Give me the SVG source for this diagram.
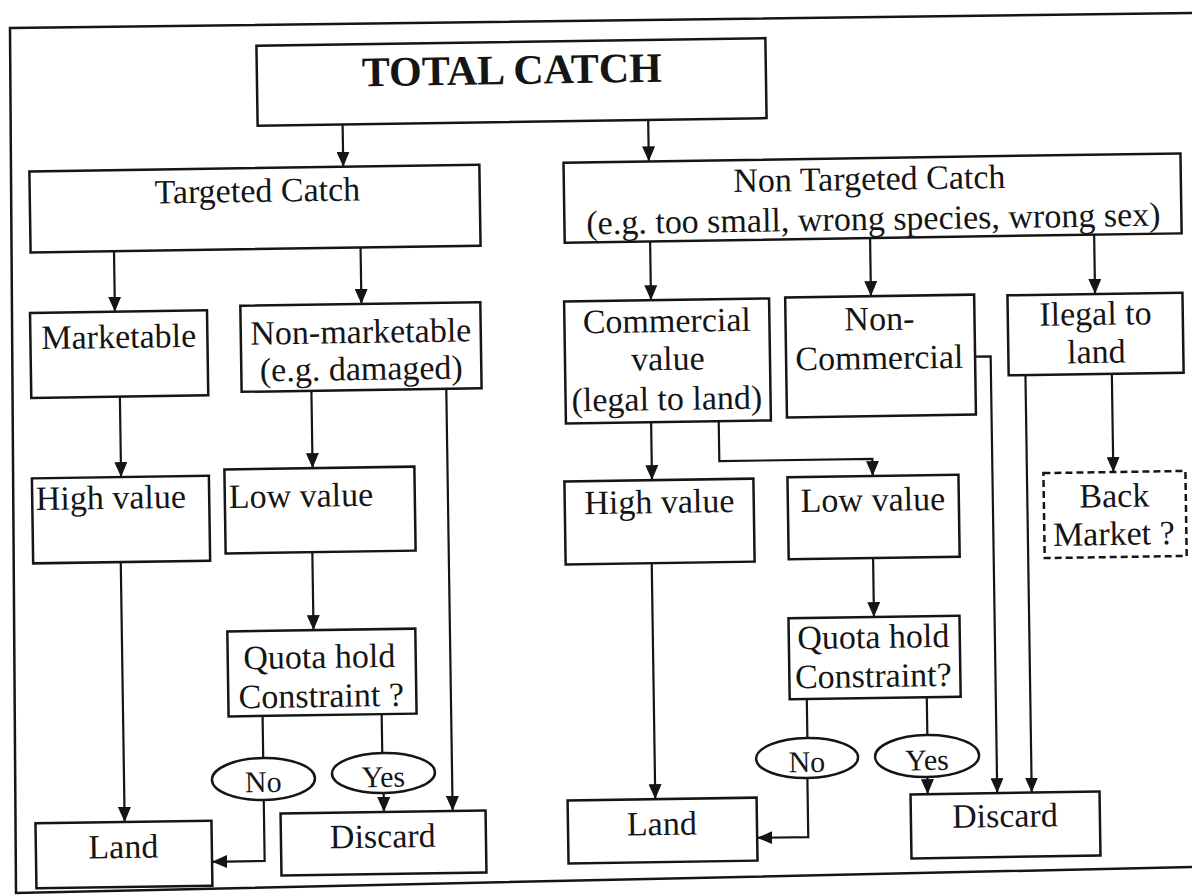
<svg xmlns="http://www.w3.org/2000/svg" width="1192" height="896" viewBox="0 0 1192 896">
<style>
.box{fill:#fff;stroke:#151515;stroke-width:2.5}
.dash{fill:#fff;stroke:#151515;stroke-width:2.5;stroke-dasharray:7 4}
.oval{fill:#fff;stroke:#151515;stroke-width:2.5}
.t{font-family:"Liberation Serif","Times New Roman",serif;font-size:34px;fill:#151515;text-anchor:middle}
.l{text-anchor:start}
.s{font-size:30px}
.title{font-size:42px;font-weight:bold}
.c{fill:none;stroke:#151515;stroke-width:2.2}
.a{marker-end:url(#arr)}
</style>
<defs>
<marker id="arr" markerUnits="userSpaceOnUse" viewBox="0 0 15 13" refX="15" refY="6.5" markerWidth="15" markerHeight="13" orient="auto">
<path d="M0,0 L15,6.5 L0,13 z" fill="#151515"/>
</marker>
</defs>
<rect width="1192" height="896" fill="#fff"/>
<g id="frame">
<polyline points="1192,13 10,28 16,893 1192,867" fill="none" stroke="#151515" stroke-width="2.5"/>
</g>
<g transform="rotate(-0.86 596 448)">
<g id="connectors">
<path class="c a" d="M347.5,120.7 V163"/>
<path class="c a" d="M653.1,120.7 V162.2"/>
<path class="c a" d="M117,244 V304.5"/>
<path class="c a" d="M363.6,244 V300.5"/>
<path class="c a" d="M653.2,242.2 V301.1"/>
<path class="c a" d="M873.2,242.2 V300.3"/>
<path class="c a" d="M1097.3,242.2 V301.5"/>
<path class="c a" d="M120.7,389.5 V469.9"/>
<path class="c a" d="M312.3,386.5 V463.9"/>
<path class="c a" d="M447.2,386.5 V808.8"/>
<path class="c a" d="M119.1,554.9 V814.9"/>
<path class="c a" d="M310.8,547.9 V625.9"/>
<path class="c" d="M258.6,710.9 V753"/>
<path class="c a" d="M258.5,795 V856 H205.9"/>
<path class="c" d="M377.7,710.9 V749.8"/>
<path class="c a" d="M378.5,789.8 V808.8"/>
<path class="c a" d="M651.5,423.1 V481"/>
<path class="c a" d="M719.1,423.1 V463 H872.2 V480.2"/>
<path class="c a" d="M871.4,562.2 V621.2"/>
<path class="c a" d="M650,564 V800"/>
<path class="c" d="M803,702.2 V741.2"/>
<path class="c a" d="M802.4,781.2 V840.2 H751.3"/>
<path class="c" d="M923,702.2 V740"/>
<path class="c a" d="M922.4,782 V799.1"/>
<path class="c a" d="M976.4,362.3 H992 V799.1"/>
<path class="c a" d="M1026.5,381.5 V799.1"/>
<path class="c a" d="M1112.9,381.5 V479.8"/>
</g>
<g id="total"><rect class="box" x="262.5" y="40.7" width="509" height="80"/><text class="t title" x="517.5" y="82.7">TOTAL CATCH</text></g>
<g id="targeted"><rect class="box" x="33.6" y="163" width="450" height="81"/><text class="t" x="261.2" y="196.9">Targeted Catch</text></g>
<g id="nontargeted"><rect class="box" x="567.8" y="162.2" width="617" height="80"/><text class="t" x="873.4" y="194.1">Non Targeted Catch</text><text class="t" x="876.8" y="234.2">(e.g. too small, wrong species, wrong sex)</text></g>
<g id="marketable"><rect class="box" x="32.1" y="304.5" width="177" height="85"/><text class="t" x="120.5" y="340.8">Marketable</text></g>
<g id="nonmarketable"><rect class="box" x="242.5" y="300.5" width="240" height="86"/><text class="t" x="362.6" y="339.5">Non-marketable</text><text class="t" x="362.5" y="376.5">(e.g. damaged)</text></g>
<g id="commercial"><rect class="box" x="566.3" y="301.1" width="205" height="122"/><text class="t" x="668.7" y="333.1">Commercial</text><text class="t" x="669.2" y="371.1">value</text><text class="t" x="667.6" y="411.1">(legal to land)</text></g>
<g id="noncommercial"><rect class="box" x="787.4" y="300.3" width="189" height="120"/><text class="t" x="881.3" y="334.3">Non-</text><text class="t" x="880.7" y="373.3">Commercial</text></g>
<g id="illegal"><rect class="box" x="1009.7" y="301.5" width="175" height="80"/><text class="t" x="1097.4" y="332.5">Ilegal to</text><text class="t" x="1097.8" y="370.5">land</text></g>
<g id="highL"><rect class="box" x="31.5" y="469.9" width="177" height="85"/><text class="t l" x="35.1" y="501.6">High value</text></g>
<g id="lowL"><rect class="box" x="224.1" y="463.9" width="190" height="84"/><text class="t l" x="228.1" y="502.5">Low value</text></g>
<g id="highR"><rect class="box" x="563.9" y="481" width="189" height="83"/><text class="t" x="658.5" y="514">High value</text></g>
<g id="lowR"><rect class="box" x="787" y="480.2" width="171" height="82"/><text class="t" x="872.1" y="515.2">Low value</text></g>
<g id="backmarket"><rect class="dash" x="1043" y="479.8" width="142" height="85"/><text class="t" x="1113.6" y="514.8">Back</text><text class="t" x="1112.5" y="552.8">Market ?</text></g>
<g id="quotaL"><rect class="box" x="224.6" y="625.9" width="188" height="85"/><text class="t" x="316.2" y="663.9">Quota hold</text><text class="t" x="317.6" y="702.9">Constraint ?</text></g>
<g id="quotaR"><rect class="box" x="785.9" y="621.2" width="171" height="81"/><text class="t" x="870.5" y="652.2">Quota hold</text><text class="t" x="869.9" y="691.2">Constraint?</text></g>
<g id="noL"><ellipse class="oval" cx="258.5" cy="774" rx="51.5" ry="21"/><text class="t s" x="258.3" y="787">No</text></g>
<g id="yesL"><ellipse class="oval" cx="378.6" cy="769.8" rx="51.5" ry="20"/><text class="t s" x="378.4" y="783.8">Yes</text></g>
<g id="noR"><ellipse class="oval" cx="802.4" cy="761.2" rx="51" ry="20"/><text class="t s" x="802.1" y="775.2">No</text></g>
<g id="yesR"><ellipse class="oval" cx="922.4" cy="761" rx="52" ry="21"/><text class="t s" x="922.2" y="775">Yes</text></g>
<g id="landL"><rect class="box" x="29.9" y="814.9" width="176" height="65"/><text class="t" x="117.4" y="850.9">Land</text></g>
<g id="discardL"><rect class="box" x="275.1" y="808.8" width="205" height="62"/><text class="t" x="377" y="844.3">Discard</text></g>
<g id="landR"><rect class="box" x="562.3" y="800" width="189" height="63"/><text class="t" x="656.2" y="836">Land</text></g>
<g id="discardR"><rect class="box" x="905.3" y="799.1" width="189" height="64"/><text class="t" x="999.3" y="833.1">Discard</text></g>
</g>
</svg>
